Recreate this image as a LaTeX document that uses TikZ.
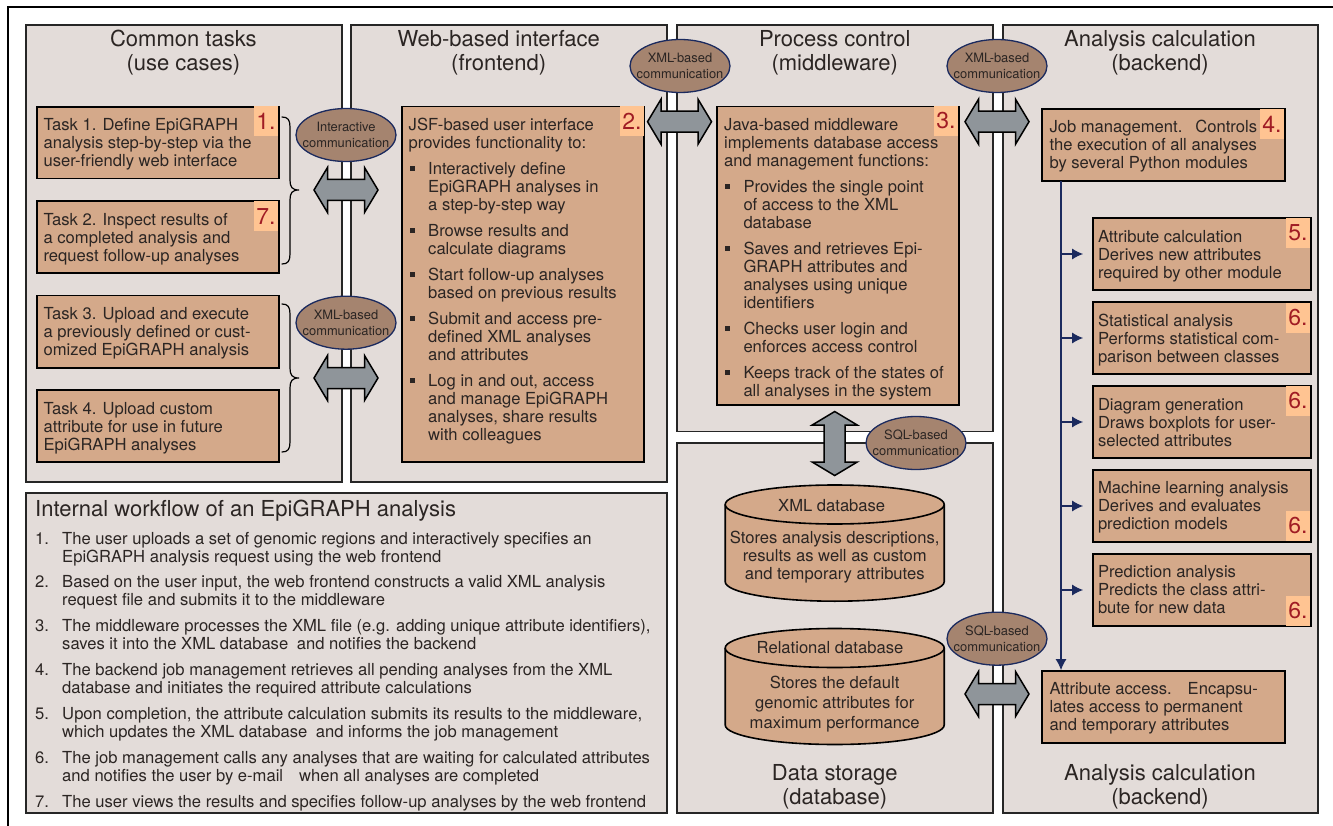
\documentclass[tikz,border=0pt]{standalone}
\usepackage{fontspec}
\setmainfont{TeX Gyre Heros}
\usetikzlibrary{arrows.meta,shapes.geometric}
\definecolor{panelc}{HTML}{E3DCD9}
\definecolor{boxc}{HTML}{D4A98A}
\definecolor{tagc}{HTML}{FFC492}
\definecolor{ellc}{HTML}{A5846F}
\definecolor{navyc}{HTML}{1B2A5E}
\definecolor{arrc}{HTML}{8F959A}
\definecolor{inkc}{HTML}{2B2523}
\definecolor{numc}{HTML}{A01C24}
\newcounter{tnum}
\tikzset{
  panelbox/.style={draw=black!85,line width=1.4pt,fill=panelc},
  modbox/.style={draw=black,line width=1.6pt,fill=boxc},
  tagnode/.style={fill=tagc,inner sep=0pt,minimum width=24pt,minimum height=30pt,text=numc,font=\fontsize{23}{24}\selectfont},
  commell/.style={ellipse,draw=navyc,line width=1.3pt,fill=ellc,minimum width=100pt,minimum height=53pt,inner sep=0pt},
  elltxt/.style={align=center,inner sep=0pt,text=inkc,font=\fontsize{12.9}{16}\selectfont},
  bodytxt/.style={inner sep=0pt,text=inkc,font=\fontsize{16.6}{18}\selectfont},
  titletxt/.style={inner sep=0pt,text=inkc,align=center,anchor=north,font=\fontsize{22}{24}\selectfont},
  blockarrow/.style={draw=black,line width=1.5pt,fill=arrc,line join=miter},
  navyline/.style={draw=navyc,line width=1.5pt},
  navyarrow/.style={navyline,-{Latex[length=11pt,width=11pt]}},
  bracket/.style={draw=black,line width=1.2pt,line cap=round},
  bulletmark/.style={fill=inkc,draw=none},
}
% rectangle node from corners: name, x1, y1, x2, y2, style
\newcommand\rectn[6]{%
  \pgfmathsetmacro\rw{#4-#2}\pgfmathsetmacro\rh{#5-#3}%
  \node[#6,rectangle,inner sep=0pt,minimum width=\rw pt,minimum height=\rh pt] (#1) at ({(#2+#4)/2},{(#3+#5)/2}) {};}
% left-aligned text; x, centre y of first line, text
\newcommand\txtl[3]{\stepcounter{tnum}\node[bodytxt,align=left,anchor=north west] (txt\arabic{tnum}) at (#1,{#2-6.6}) {\strut #3};}
% centred text
\newcommand\txtc[3]{\stepcounter{tnum}\node[bodytxt,align=center,anchor=north] (txt\arabic{tnum}) at (#1,{#2-6.6}) {\strut #3};}
\newcommand\bul[3]{\fill[bulletmark] ({#1-2.3},{#2-2.3}) rectangle ({#1+2.3},{#2+2.3}); \txtl{#3}{#2}}
\newcommand\tagn[4]{\node[tagnode] (#1) at (#2,#3) {#4};}
\newcommand\titlen[3]{\stepcounter{tnum}\node[titletxt] (txt\arabic{tnum}) at (#1,{#2-8.9}) {\strut #3};}
\newcommand\ovaln[4]{\node[commell] (#1) at (#2,#3) {}; \node[elltxt] (#1t) at (#1) {#4};}
\newcommand\harrow[2]{\draw[blockarrow,shift={(#1,#2)}] (-32,0) -- (-18.5,-22.5) -- (-18.5,-10.5) -- (18.5,-10.5) -- (18.5,-22.5) -- (32,0) -- (18.5,22.5) -- (18.5,10.5) -- (-18.5,10.5) -- (-18.5,22.5) -- cycle;}
\newcommand\varrow[2]{\draw[blockarrow,shift={(#1,#2)}] (0,-32) -- (22.5,-18.5) -- (10.5,-18.5) -- (10.5,18.5) -- (22.5,18.5) -- (0,32) -- (-22.5,18.5) -- (-10.5,18.5) -- (-10.5,-18.5) -- (-22.5,-18.5) -- cycle;}
\newcommand\cylin[4]{% cx, ytop centre, ybottom centre, ry
  \draw[draw=black,line width=1.6pt,fill=boxc] (#1-109.5,#2) -- (#1-109.5,#3) arc[start angle=180,end angle=0,x radius=109.5,y radius=#4] -- (#1+109.5,#2);
  \draw[draw=black,line width=1.6pt,fill=boxc] (#1,#2) ellipse[x radius=109.5,y radius=#4];}
\newcommand\bracen[4]{% x1, top, tip, bottom
  \draw[bracket] (#1,#2) .. controls (#1+6,#2) and (#1+8,#2+3) .. (#1+8,#2+10) -- (#1+8,#3-10) .. controls (#1+8,#3-3) and (#1+10,#3) .. (#1+17,#3) .. controls (#1+10,#3) and (#1+8,#3+3) .. (#1+8,#3+10) -- (#1+8,#4-10) .. controls (#1+8,#4-3) and (#1+6,#4) .. (#1,#4);}
\begin{document}
\begin{tikzpicture}[x=1pt,y=-1pt]
\useasboundingbox (0,0) rectangle (1333,826);
\fill[white] (0,0) rectangle (1333,826);
\coordinate (frameA) at (8,826);
\coordinate (frameB) at (8,7);
\coordinate (frameC) at (1333,7);
\draw[black,line width=1.1pt] (frameA) -- (frameB) -- (frameC);

% panels
\rectn{common}{26}{25}{342}{482}{panelbox}
\rectn{web}{351}{25}{667}{482}{panelbox}
\rectn{process}{677}{25}{993}{431.5}{panelbox}
\rectn{data}{677}{443}{993}{813}{panelbox}
\rectn{backend}{1003}{25}{1318}{813}{panelbox}
\rectn{workflow}{26}{493}{667}{813}{panelbox}

% titles
\titlen{183.4}{38.7}{Common tasks\\(use cases)}
\titlen{498.7}{38.7}{Web-based interface\\(frontend)}
\titlen{834.7}{38.7}{Process control\\(middleware)}
\titlen{1160}{38.7}{Analysis calculation\\(backend)}
\titlen{834.7}{772.7}{Data storage\\(database)}
\titlen{1160}{772.7}{Analysis calculation\\(backend)}

% task boxes
\rectn{task1}{37}{107}{279}{178.5}{modbox}
\rectn{task2}{37}{201}{279}{273}{modbox}
\rectn{task3}{37}{295.5}{279}{368}{modbox}
\rectn{task4}{37}{390}{279}{462}{modbox}
\tagn{tag1}{266}{121}{1.}
\tagn{tag7}{266}{216.5}{7.}
\txtl{43.4}{124.3}{Task 1. Define EpiGRAPH\\analysis step-by-step via the\\user-friendly web interface}
\txtl{43.4}{219.3}{Task 2. Inspect results of\\a completed analysis and\\request follow-up analyses}
\txtl{43.4}{313.3}{Task 3. Upload and execute\\a previously defined or cust-\\omized EpiGRAPH analysis}
\txtl{43.4}{408.3}{Task 4. Upload custom\\attribute for use in future\\EpiGRAPH analyses}

% braces
\bracen{282}{117}{190}{264}
\bracen{282}{304}{378}{452}

% frontend
\rectn{webbox}{402}{106.5}{644}{462}{modbox}
\tagn{tag2}{632}{121}{2.}
\txtl{408.5}{124.3}{JSF-based user interface\\provides functionality to:}
\bul{412.5}{168.7}{428}{Interactively define\\EpiGRAPH analyses in\\a step-by-step way}
\bul{412.5}{230.3}{428}{Browse results and\\calculate diagrams}
\bul{412.5}{274.3}{428}{Start follow-up analyses\\based on previous results}
\bul{412.5}{318.3}{428}{Submit and access pre-\\defined XML analyses\\and attributes}
\bul{412.5}{380.3}{428}{Log in and out, access\\and manage EpiGRAPH\\analyses, share results\\with colleagues}

% middleware
\rectn{midbox}{717}{106.5}{959}{405}{modbox}
\tagn{tag3}{946}{121}{3.}
\txtl{724}{124.3}{Java-based middleware\\implements database access\\and management functions:}
\bul{727.4}{186.7}{743.3}{Provides the single point\\of access to the XML\\database}
\bul{727.4}{248.3}{743.3}{Saves and retrieves Epi-\\GRAPH attributes and\\analyses using unique\\identifiers}
\bul{727.4}{328.3}{743.3}{Checks user login and\\enforces access control}
\bul{727.4}{372.3}{743.3}{Keeps track of the states of\\all analyses in the system}

% backend boxes
\rectn{job}{1042}{109}{1285}{181}{modbox}
\rectn{attrcalc}{1093}{218}{1311}{290}{modbox}
\rectn{stat}{1093}{302}{1311}{374}{modbox}
\rectn{diagram}{1093}{386}{1311}{458}{modbox}
\rectn{ml}{1093}{470}{1311}{542}{modbox}
\rectn{pred}{1093}{554}{1311}{626}{modbox}
\rectn{access}{1042}{671}{1285}{743}{modbox}
\tagn{tag4}{1272}{124}{4.}
\tagn{tag5}{1298}{233}{5.}
\tagn{tag6a}{1298}{318}{6.}
\tagn{tag6b}{1298}{401}{6.}
\tagn{tag6c}{1298}{526}{6.}
\tagn{tag6d}{1298}{611}{6.}
\txtl{1049.3}{126.3}{Job management.\hspace{13pt}Controls\\the execution of all analyses\\by several Python modules}
\txtl{1097.8}{236.3}{Attribute calculation\\Derives new attributes\\required by other module}
\txtl{1097.8}{320.3}{Statistical analysis\\Performs statistical com-\\parison between classes}
\txtl{1097.8}{404.3}{Diagram generation\\Draws boxplots for user-\\selected attributes}
\txtl{1097.8}{487.3}{Machine learning analysis\\Derives and evaluates\\prediction models}
\txtl{1097.8}{571.3}{Prediction analysis\\Predicts the class attri-\\bute for new data}
\txtl{1049.3}{688.3}{Attribute access.\hspace{16pt}Encapsu-\\lates access to permanent\\and temporary attributes}

% job connectors
\coordinate (trunk) at (1061,181);
\draw[navyarrow] (trunk) -- (trunk |- access.north);
\foreach \m in {attrcalc,stat,diagram,ml,pred}{
  \draw[navyarrow,shorten >=9pt] (trunk |- \m.west) -- (\m.west);
}

% databases
\cylin{834.7}{504.5}{581.7}{19.5}
\cylin{834.7}{648}{725}{19.5}
\txtc{831.7}{505}{XML database}
\txtc{834.7}{537.3}{Stores analysis descriptions,\\results as well as custom\\and temporary attributes}
\txtc{830}{647}{Relational database}
\txtc{834.7}{682.3}{Stores the default\\[2pt]genomic attributes for\\[2pt]maximum performance}

% block arrows
\harrow{346}{190}
\harrow{346}{378}
\harrow{679.5}{121.7}
\harrow{997}{121.7}
\harrow{997}{694}
\varrow{834.7}{443.5}

% ellipses
\ovaln{e1}{346}{135}{Interactive\\communication}
\ovaln{e2}{346}{322.7}{XML-based\\communication}
\ovaln{e3}{680}{66}{XML-based\\communication}
\ovaln{e4}{997}{66}{XML-based\\communication}
\ovaln{e5}{916}{443}{SQL-based\\communication}
\ovaln{e6}{997}{638.7}{SQL-based\\communication}

% workflow
\node[inner sep=0pt,text=inkc,anchor=north west,font=\fontsize{22}{24}\selectfont] (wftitle) at (35,{508.7-8.9}) {\strut Internal workflow of an EpiGRAPH analysis};
\txtl{35}{538}{1.}\txtl{62}{538}{The user uploads a set of genomic regions and interactively specifies an\\EpiGRAPH analysis request using the web frontend}
\txtl{35}{581}{2.}\txtl{62}{581}{Based on the user input, the web frontend constructs a valid XML analysis\\request file and submits it to the middleware}
\txtl{35}{625}{3.}\txtl{62}{625}{The middleware processes the XML file (e.g. adding unique attribute identifiers),\\saves it into the XML database\hspace{4pt} and notifies the backend}
\txtl{35}{669}{4.}\txtl{62}{669}{The backend job management retrieves all pending analyses from the XML\\database and initiates the required attribute calculations}
\txtl{35}{713}{5.}\txtl{62}{713}{Upon completion, the attribute calculation submits its results to the middleware,\\which updates the XML database\hspace{4pt} and informs the job management}
\txtl{35}{757}{6.}\txtl{62}{757}{The job management calls any analyses that are waiting for calculated attributes\\and notifies the user by e-mail\hspace{16pt}when all analyses are completed}
\txtl{35}{801}{7.}\txtl{62}{801}{The user views the results and specifies follow-up analyses by the web frontend}
\end{tikzpicture}
\end{document}
